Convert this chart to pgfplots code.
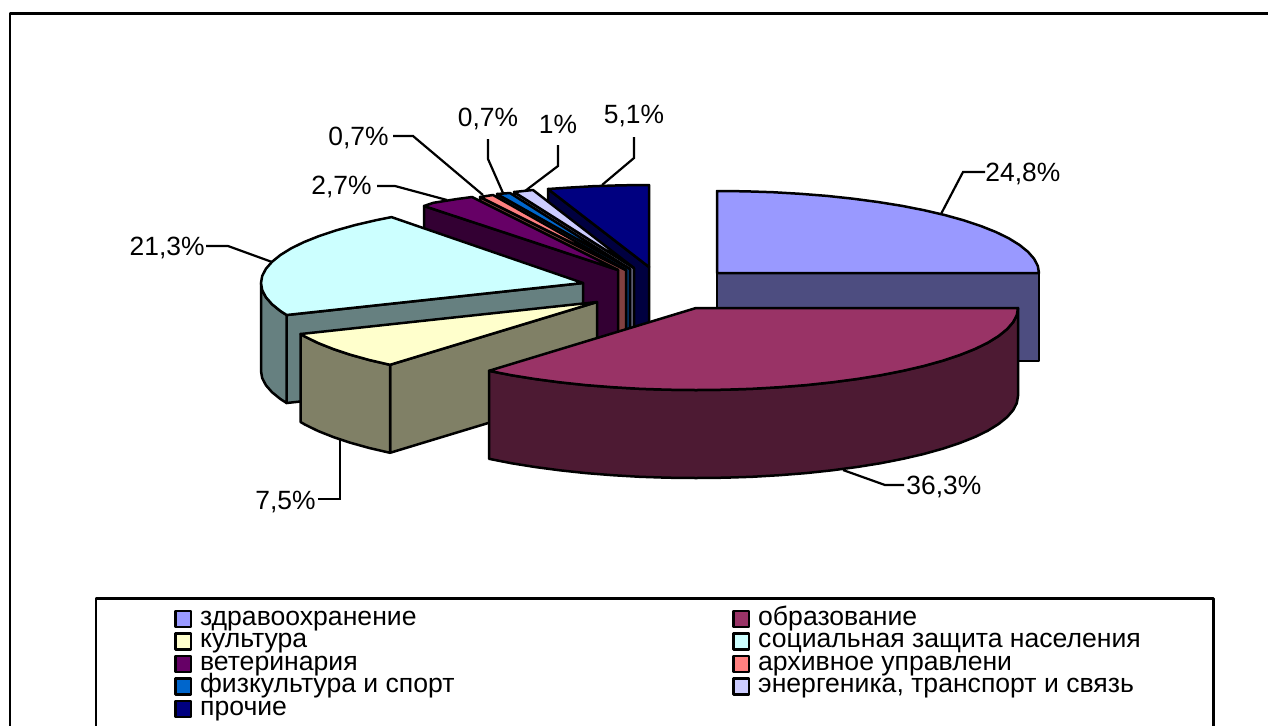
\documentclass[border=0pt]{standalone}
\usepackage{pgfplots}
\pgfplotsset{compat=1.18}
\usepackage{fontspec}
\setmainfont{Liberation Sans}
\definecolor{cA}{HTML}{9999FF}\definecolor{dA}{HTML}{4D4D80}
\definecolor{cB}{HTML}{993366}\definecolor{dB}{HTML}{4D1A33}
\definecolor{cC}{HTML}{FFFFCC}\definecolor{dC}{HTML}{808066}
\definecolor{cD}{HTML}{CCFFFF}\definecolor{dD}{HTML}{668080}
\definecolor{cE}{HTML}{660066}\definecolor{dE}{HTML}{330033}
\definecolor{cF}{HTML}{FF8080}\definecolor{dF}{HTML}{804040}
\definecolor{cG}{HTML}{0066CC}\definecolor{dG}{HTML}{003366}
\definecolor{cH}{HTML}{CCCCFF}\definecolor{dH}{HTML}{666680}
\definecolor{cI}{HTML}{000080}\definecolor{dI}{HTML}{000040}
\begin{document}
\begin{tikzpicture}
\path[use as bounding box] (0,0) rectangle (634pt,362.5pt);
\begin{axis}[
  at={(0,0)}, anchor=south west,
  scale only axis, width=634pt, height=362.5pt,
  xmin=0, xmax=1268, ymin=0, ymax=725, y dir=reverse,
  axis lines=none, clip=true,
  legend columns=2,
  legend cell align=left,
  legend image code/.code={\draw[#1,draw=black,line width=1.25pt] (0pt,-4pt) rectangle (7.8pt,4pt);},
  legend style={draw=none, fill=none, at={(axis cs:174,607.5)}, anchor=north west,
    font=\fontsize{13.3pt}{11.2pt}\selectfont, inner sep=0pt, outer sep=0pt,
    row sep=0pt,
    nodes={inner sep=0pt, outer sep=0pt, text depth=2.35pt, text height=8.9pt},
    /tikz/every odd column/.append style={column sep=4pt},
    /tikz/every even column/.append style={column sep=0pt},
  },
  every axis plot/.append style={line width=1.25pt, line join=round, draw=black},
]
% legend
\addlegendimage{fill=cA}\addlegendentry{\makebox[266pt][l]{здравоохранение}}
\addlegendimage{fill=cB}\addlegendentry{образование}
\addlegendimage{fill=cC}\addlegendentry{\makebox[266pt][l]{культура}}
\addlegendimage{fill=cD}\addlegendentry{социальная защита населения}
\addlegendimage{fill=cE}\addlegendentry{\makebox[266pt][l]{ветеринария}}
\addlegendimage{fill=cF}\addlegendentry{архивное управлени}
\addlegendimage{fill=cG}\addlegendentry{\makebox[266pt][l]{физкультура и спорт}}
\addlegendimage{fill=cH}\addlegendentry{энергеника, транспорт и связь}
\addlegendimage{fill=cI}\addlegendentry{\makebox[266pt][l]{прочие}}
% frame
\addplot[forget plot, line width=1.25pt, line cap=rect] coordinates {(10,725) (10,13.5) (1268,13.5)};
\addplot[forget plot, line width=1.25pt, line cap=rect] coordinates {(96,725) (96,598.5) (1213.5,598.5) (1213.5,725)};
% leaders
\addplot[forget plot, line width=1.1pt, line join=miter] coordinates {(941,214) (963,172) (985,172)};
\addplot[forget plot, line width=1.1pt, line join=miter] coordinates {(843,470) (885,485) (904,485)};
\addplot[forget plot, line width=1.1pt, line join=miter] coordinates {(340,440) (340,499) (318,499)};
\addplot[forget plot, line width=1.1pt, line join=miter] coordinates {(272,262) (228,246) (206,246)};
\addplot[forget plot, line width=1.1pt, line join=miter] coordinates {(447,200) (395,186) (377,186)};
\addplot[forget plot, line width=1.1pt, line join=miter] coordinates {(483,195) (413,136) (393,136)};
\addplot[forget plot, line width=1.1pt, line join=miter] coordinates {(503,193) (488,159) (488,139)};
\addplot[forget plot, line width=1.1pt, line join=miter] coordinates {(525,191) (558,166) (558,145)};
\addplot[forget plot, line width=1.1pt, line join=miter] coordinates {(602,185) (634,158) (634,137)};
% slice 9 прочие
\addplot[forget plot, fill=dI] coordinates {(548,189) (649,267) (649,355) (548,277)} -- cycle;
\addplot[forget plot, fill=cI] coordinates {(649,267) (548,189) (565.7,187.8) (593.1,186.2) (620.9,185.3) (649,185)} -- cycle;
% slice 8 энергетика
\addplot[forget plot, fill=dH] coordinates {(514,192) (634,268) (634,356) (514,280)} -- cycle;
\addplot[forget plot, fill=cH] coordinates {(634,268) (514,192) (533,190)} -- cycle;
% slice 7 физкультура
\addplot[forget plot, fill=dG] coordinates {(497,194) (630,269) (630,357) (497,282)} -- cycle;
\addplot[forget plot, fill=cG] coordinates {(630,269) (497,194) (510,193)} -- cycle;
% slice 6 архивное
\addplot[forget plot, fill=dF] coordinates {(480,197) (626,270) (626,358) (480,285)} -- cycle;
\addplot[forget plot, fill=cF] coordinates {(626,270) (480,197) (493,195)} -- cycle;
% slice 5 ветеринария
\addplot[forget plot, fill=dE] coordinates {(424,206) (618,270) (618,358) (424,294)} -- cycle;
\addplot[forget plot, fill=cE] coordinates {(618,270) (424,206) (433.3,202.8) (457,199) (472,197)} -- cycle;
% slice 4 социальная защита
\addplot[forget plot, fill=dD] coordinates {(286.6,315) (583,283) (583,371) (286.6,403)} -- cycle;
\addplot[forget plot, fill=dD] coordinates {(286.6,315) (280.4,311) (272,304.2) (265.9,297.2) (262.2,290.1) (261,283) (261,371) (262.2,378.1) (265.9,385.2) (272,392.2) (280.4,399) (286.6,403)} -- cycle;
\addplot[forget plot, fill=cD] coordinates {(583,283) (286.6,315) (280.4,311) (272,304.2) (265.9,297.2) (262.2,290.1) (261,283) (262.2,275.9) (265.9,268.8) (272,261.8) (280.4,255) (291.2,248.3) (304.1,242) (319.2,236) (336.3,230.3) (355.3,225) (376,220.2) (391.5,217.1)} -- cycle;
% slice 3 культура
\addplot[forget plot, fill=dC] coordinates {(390,364.8) (597,302) (597,390) (390,452.8)} -- cycle;
\addplot[forget plot, fill=dC] coordinates {(300.6,334) (305.2,336.7) (318.1,343) (333.2,349) (350.3,354.7) (369.3,360) (390,364.8) (390,452.8) (369.3,448) (350.3,442.7) (333.2,437) (318.1,431) (305.2,424.7) (300.6,422)} -- cycle;
\addplot[forget plot, fill=cC] coordinates {(597,302) (300.6,334) (305.2,336.7) (318.1,343) (333.2,349) (350.3,354.7) (369.3,360) (390,364.8)} -- cycle;
% slice 1 здравоохранение
\addplot[forget plot, fill=dA] coordinates {(717,273) (1039,273) (1039,361) (717,361)} -- cycle;
\addplot[forget plot, fill=cA] coordinates {(717,273) (717,191) (745.1,191.3) (772.9,192.2) (800.3,193.8) (827.1,195.9) (853.1,198.7) (878,202) (901.7,205.8) (924,210.2) (944.7,215) (963.7,220.3) (980.8,226) (995.9,232) (1008.8,238.3) (1019.6,245) (1028,251.8) (1034.1,258.8) (1037.8,265.9) (1039,273)} -- cycle;
% slice 2 образование
\addplot[forget plot, fill=dB] coordinates {(489,370.8) (511.3,375.2) (535,379) (559.9,382.3) (585.9,385.1) (612.7,387.2) (640.1,388.8) (667.9,389.7) (696,390) (724.1,389.7) (751.9,388.8) (779.3,387.2) (806.1,385.1) (832.1,382.3) (857,379) (880.7,375.2) (903,370.8) (923.7,366) (942.7,360.7) (959.8,355) (974.9,349) (987.8,342.7) (998.6,336) (1007,329.2) (1013.1,322.2) (1016.8,315.1) (1018,308) (1018,396) (1016.8,403.1) (1013.1,410.2) (1007,417.2) (998.6,424) (987.8,430.7) (974.9,437) (959.8,443) (942.7,448.7) (923.7,454) (903,458.8) (880.7,463.2) (857,467) (832.1,470.3) (806.1,473.1) (779.3,475.2) (751.9,476.8) (724.1,477.7) (696,478) (667.9,477.7) (640.1,476.8) (612.7,475.2) (585.9,473.1) (559.9,470.3) (535,467) (511.3,463.2) (489,458.8)} -- cycle;
\addplot[forget plot, fill=cB] coordinates {(696,308) (1018,308) (1016.8,315.1) (1013.1,322.2) (1007,329.2) (998.6,336) (987.8,342.7) (974.9,349) (959.8,355) (942.7,360.7) (923.7,366) (903,370.8) (880.7,375.2) (857,379) (832.1,382.3) (806.1,385.1) (779.3,387.2) (751.9,388.8) (724.1,389.7) (696,390) (667.9,389.7) (640.1,388.8) (612.7,387.2) (585.9,385.1) (559.9,382.3) (535,379) (511.3,375.2) (489,370.8)} -- cycle;
% labels
\node[font=\fontsize{13.2pt}{15pt}\selectfont, anchor=west, inner sep=0pt] at (axis cs:985,173.5) {24,8\%};
\node[font=\fontsize{13.2pt}{15pt}\selectfont, anchor=west, inner sep=0pt] at (axis cs:906,487) {36,3\%};
\node[font=\fontsize{13.2pt}{15pt}\selectfont, anchor=east, inner sep=0pt] at (axis cs:316,502.5) {7,5\%};
\node[font=\fontsize{13.2pt}{15pt}\selectfont, anchor=east, inner sep=0pt] at (axis cs:205,248) {21,3\%};
\node[font=\fontsize{13.2pt}{15pt}\selectfont, anchor=east, inner sep=0pt] at (axis cs:372,186.5) {2,7\%};
\node[font=\fontsize{13.2pt}{15pt}\selectfont, anchor=east, inner sep=0pt] at (axis cs:389,137.5) {0,7\%};
\node[font=\fontsize{13.2pt}{15pt}\selectfont, anchor=center, inner sep=0pt] at (axis cs:488,118.5) {0,7\%};
\node[font=\fontsize{13.2pt}{15pt}\selectfont, anchor=center, inner sep=0pt] at (axis cs:558,124.5) {1\%};
\node[font=\fontsize{13.2pt}{15pt}\selectfont, anchor=center, inner sep=0pt] at (axis cs:634,116) {5,1\%};
\end{axis}
\end{tikzpicture}
\end{document}
